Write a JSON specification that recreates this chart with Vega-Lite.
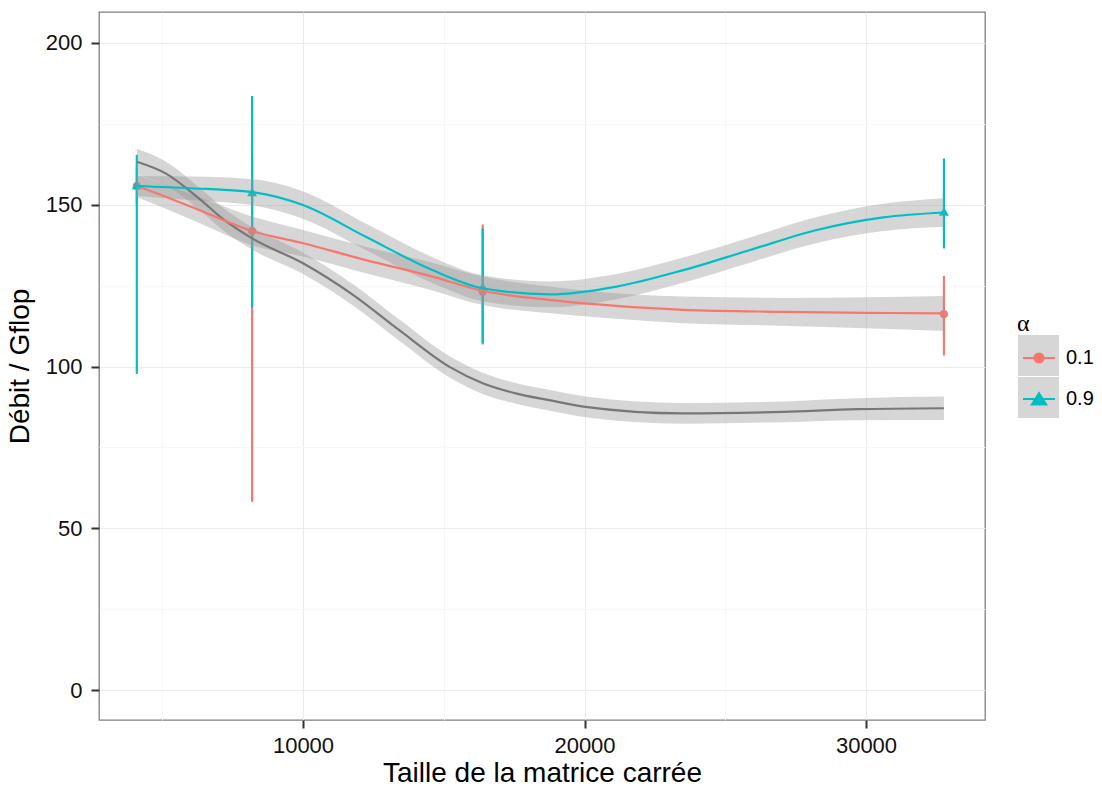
{
  "$schema": "https://vega.github.io/schema/vega-lite/v6.json",
  "autosize": "none",
  "width": 886,
  "height": 708,
  "padding": {"left": 99, "top": 12, "right": 117, "bottom": 71},
  "background": "white",
  "config": {
    "font": "Liberation Sans",
    "view": {"stroke": "#7F7F7F", "strokeWidth": 1.3},
    "axis": {
      "domain": false,
      "labelFont": "Liberation Sans",
      "titleFont": "Liberation Sans",
      "labelFontSize": 22,
      "titleFontSize": 28,
      "titleFontWeight": "normal",
      "labelColor": "#111111",
      "titleColor": "#000000",
      "tickSize": 8,
      "tickWidth": 2
    }
  },
  "datasets": {
    "pts": [
      {"alpha": "0.1", "x": 4096, "y": 155.8, "lo": 150.0, "hi": 162.0},
      {"alpha": "0.1", "x": 8192, "y": 141.9, "lo": 58.2, "hi": 165.0},
      {"alpha": "0.1", "x": 16384, "y": 123.1, "lo": 106.8, "hi": 143.9},
      {"alpha": "0.1", "x": 32768, "y": 116.2, "lo": 103.4, "hi": 128.0},
      {"alpha": "0.9", "x": 4096, "y": 156.1, "lo": 97.7, "hi": 165.4},
      {"alpha": "0.9", "x": 8192, "y": 154.0, "lo": 118.2, "hi": 183.6},
      {"alpha": "0.9", "x": 16384, "y": 124.7, "lo": 107.2, "hi": 142.7},
      {"alpha": "0.9", "x": 32768, "y": 147.9, "lo": 136.5, "hi": 164.3}
    ],
    "smooth": [
      {"alpha": "0.1", "x": 4096, "y": 155.8, "lo": 152.3, "hi": 159.3},
      {"alpha": "0.1", "x": 5120, "y": 152.5, "lo": 148.8, "hi": 156.2},
      {"alpha": "0.1", "x": 6300, "y": 148.4, "lo": 144.4, "hi": 152.4},
      {"alpha": "0.1", "x": 8192, "y": 141.9, "lo": 137.4, "hi": 146.4},
      {"alpha": "0.1", "x": 10000, "y": 138.1, "lo": 134.0, "hi": 142.2},
      {"alpha": "0.1", "x": 12230, "y": 132.9, "lo": 128.8, "hi": 137.0},
      {"alpha": "0.1", "x": 14600, "y": 127.8, "lo": 123.5, "hi": 132.1},
      {"alpha": "0.1", "x": 16384, "y": 123.4, "lo": 119.0, "hi": 127.8},
      {"alpha": "0.1", "x": 18740, "y": 120.6, "lo": 116.5, "hi": 124.7},
      {"alpha": "0.1", "x": 20000, "y": 119.5, "lo": 115.5, "hi": 123.5},
      {"alpha": "0.1", "x": 23510, "y": 117.5, "lo": 113.4, "hi": 121.6},
      {"alpha": "0.1", "x": 27060, "y": 116.9, "lo": 112.6, "hi": 121.2},
      {"alpha": "0.1", "x": 30000, "y": 116.6, "lo": 111.8, "hi": 121.4},
      {"alpha": "0.1", "x": 32768, "y": 116.4, "lo": 111.0, "hi": 121.8},
      {"alpha": "0.9", "x": 4096, "y": 155.8, "lo": 152.7, "hi": 158.9},
      {"alpha": "0.9", "x": 6000, "y": 155.1, "lo": 151.5, "hi": 158.7},
      {"alpha": "0.9", "x": 8192, "y": 153.9, "lo": 149.9, "hi": 157.9},
      {"alpha": "0.9", "x": 10000, "y": 149.9, "lo": 145.7, "hi": 154.1},
      {"alpha": "0.9", "x": 12230, "y": 140.1, "lo": 136.0, "hi": 144.2},
      {"alpha": "0.9", "x": 14600, "y": 129.8, "lo": 125.8, "hi": 133.8},
      {"alpha": "0.9", "x": 16384, "y": 124.2, "lo": 120.2, "hi": 128.2},
      {"alpha": "0.9", "x": 18770, "y": 122.3, "lo": 118.3, "hi": 126.3},
      {"alpha": "0.9", "x": 21140, "y": 124.7, "lo": 120.8, "hi": 128.6},
      {"alpha": "0.9", "x": 23510, "y": 129.8, "lo": 125.9, "hi": 133.7},
      {"alpha": "0.9", "x": 25880, "y": 136.0, "lo": 132.1, "hi": 139.9},
      {"alpha": "0.9", "x": 28250, "y": 142.2, "lo": 138.2, "hi": 146.2},
      {"alpha": "0.9", "x": 30620, "y": 146.1, "lo": 141.9, "hi": 150.3},
      {"alpha": "0.9", "x": 32768, "y": 147.6, "lo": 143.2, "hi": 152.0}
    ],
    "overall": [
      {"x": 4096, "y": 163.3, "lo": 159.3, "hi": 167.3},
      {"x": 5120, "y": 159.7, "lo": 156.0, "hi": 163.4},
      {"x": 6300, "y": 152.0, "lo": 148.5, "hi": 155.5},
      {"x": 7200, "y": 145.3, "lo": 141.8, "hi": 148.8},
      {"x": 8192, "y": 139.6, "lo": 136.1, "hi": 143.1},
      {"x": 10000, "y": 131.9, "lo": 128.6, "hi": 135.2},
      {"x": 11800, "y": 122.0, "lo": 118.7, "hi": 125.3},
      {"x": 13410, "y": 111.3, "lo": 108.0, "hi": 114.6},
      {"x": 15222, "y": 99.8, "lo": 96.5, "hi": 103.1},
      {"x": 16384, "y": 94.8, "lo": 91.5, "hi": 98.1},
      {"x": 17590, "y": 91.6, "lo": 88.4, "hi": 94.8},
      {"x": 18740, "y": 89.6, "lo": 86.4, "hi": 92.8},
      {"x": 19960, "y": 87.6, "lo": 84.4, "hi": 90.8},
      {"x": 23510, "y": 85.5, "lo": 82.3, "hi": 88.7},
      {"x": 27060, "y": 86.0, "lo": 82.8, "hi": 89.2},
      {"x": 29670, "y": 86.8, "lo": 83.4, "hi": 90.2},
      {"x": 32768, "y": 87.1, "lo": 83.5, "hi": 90.7}
    ]
  },
  "encoding": {
    "x": {
      "field": "x",
      "type": "quantitative",
      "scale": {"domain": [2753, 34227], "nice": false, "zero": false},
      "axis": {
        "title": "Taille de la matrice carrée",
        "values": [5000, 10000, 15000, 20000, 25000, 30000],
        "labelExpr": "datum.value % 10000 === 0 ? format(datum.value, 'd') : ''",
        "gridColor": {"condition": {"test": "datum.value % 10000 === 0", "value": "#EBEBEB"}, "value": "#F7F7F7"},
        "tickColor": {"condition": {"test": "datum.value % 10000 === 0", "value": "#333333"}, "value": "transparent"},
        "labelPadding": 7,
        "titlePadding": 3
      }
    }
  },
  "layer": [
    {
      "data": {"name": "pts"},
      "mark": {"type": "rule", "strokeWidth": 2.2},
      "encoding": {
        "y": {
          "field": "lo",
          "type": "quantitative",
          "scale": {"domain": [-9.27, 209.58], "nice": false, "zero": false},
          "axis": {
            "title": "Débit / Gflop",
            "values": [0, 25, 50, 75, 100, 125, 150, 175, 200],
            "labelExpr": "datum.value % 50 === 0 ? datum.label : ''",
            "gridColor": {"condition": {"test": "datum.value % 50 === 0", "value": "#EBEBEB"}, "value": "#F7F7F7"},
            "tickColor": {"condition": {"test": "datum.value % 50 === 0", "value": "#333333"}, "value": "transparent"},
            "labelPadding": 9,
            "titlePadding": 11
          }
        },
        "y2": {"field": "hi"},
        "color": {
          "field": "alpha",
          "type": "nominal",
          "scale": {"domain": ["0.1", "0.9"], "range": ["#F8766D", "#00BFC4"]},
          "legend": {
            "title": "α",
            "orient": "none",
            "legendX": 918,
            "legendY": 300,
            "zindex": 1,
            "padding": 0,
            "titleFont": "Liberation Serif",
            "titleFontSize": 24,
            "titleFontWeight": "normal",
            "titlePadding": 0,
            "labelFont": "Liberation Sans",
            "labelFontSize": 20,
            "labelColor": "#000000",
            "labelOffset": 5,
            "symbolSize": 1681,
            "symbolStrokeWidth": 2.2,
            "rowPadding": 9,
            "encode": {
              "symbols": {
                "update": {
                  "fill": {"scale": "color", "field": "value"},
                  "stroke": {"scale": "color", "field": "value"},
                  "strokeWidth": {"value": 2.2},
                  "opacity": {"value": 1}
                }
              }
            }
          }
        }
      }
    },
    {
      "data": {"name": "pts"},
      "transform": [{"filter": "datum.alpha === '0.1'"}],
      "mark": {"type": "point", "filled": true, "shape": "circle", "size": 70, "opacity": 1},
      "encoding": {
        "y": {"field": "y", "type": "quantitative"},
        "color": {"field": "alpha", "type": "nominal"}
      }
    },
    {
      "data": {"name": "pts"},
      "transform": [{"filter": "datum.alpha === '0.9'"}],
      "mark": {"type": "point", "filled": true, "shape": "triangle-up", "size": 100, "opacity": 1},
      "encoding": {
        "y": {"field": "y", "type": "quantitative"},
        "color": {"field": "alpha", "type": "nominal"}
      }
    },
    {
      "data": {"name": "pts"},
      "mark": {"type": "point", "filled": true, "opacity": 0},
      "encoding": {
        "y": {"field": "y", "type": "quantitative"},
        "color": {"field": "alpha", "type": "nominal"},
        "shape": {
          "field": "alpha",
          "type": "nominal",
          "scale": {
            "domain": ["0.1", "0.9"],
            "range": [
              "M-0.78,0L0.78,0M0.22,0A0.22,0.22,0,1,1,-0.22,0A0.22,0.22,0,1,1,0.22,0Z",
              "M-0.78,0L0.78,0M0,-0.28L0.34,0.26L-0.34,0.26Z"
            ]
          }
        }
      }
    },
    {
      "data": {"name": "overall"},
      "mark": {"type": "area", "opacity": 0.4, "color": "#999999", "interpolate": "monotone"},
      "encoding": {
        "y": {"field": "lo", "type": "quantitative"},
        "y2": {"field": "hi"}
      }
    },
    {
      "data": {"name": "smooth"},
      "mark": {"type": "area", "opacity": 0.4, "interpolate": "monotone"},
      "encoding": {
        "y": {"field": "lo", "type": "quantitative"},
        "y2": {"field": "hi"},
        "fill": {
          "field": "alpha",
          "type": "nominal",
          "scale": {"range": ["#999999", "#999999"]},
          "legend": {
            "title": " ",
            "orient": "none",
            "legendX": 918,
            "legendY": 300,
            "zindex": 0,
            "padding": 0,
            "titleFont": "Liberation Serif",
            "titleFontSize": 19,
            "titleFontWeight": "normal",
            "titlePadding": 3,
            "labelFont": "Liberation Sans",
            "labelFontSize": 20,
            "labelExpr": "''",
            "labelOffset": 5,
            "symbolType": "square",
            "symbolSize": 1681,
            "rowPadding": 0,
            "encode": {
              "symbols": {
                "update": {
                  "fill": {"value": "#D6D6D6"},
                  "fillOpacity": {"value": 1},
                  "opacity": {"value": 1},
                  "stroke": {"value": "#C0C0C0"},
                  "strokeWidth": {"value": 1.2}
                }
              }
            }
          }
        }
      }
    },
    {
      "data": {"name": "overall"},
      "mark": {"type": "line", "color": "#777777", "strokeWidth": 2.2, "interpolate": "monotone"},
      "encoding": {
        "y": {"field": "y", "type": "quantitative"}
      }
    },
    {
      "data": {"name": "smooth"},
      "mark": {"type": "line", "strokeWidth": 2.2, "interpolate": "monotone"},
      "encoding": {
        "y": {"field": "y", "type": "quantitative"},
        "color": {"field": "alpha", "type": "nominal"}
      }
    }
  ]
}
